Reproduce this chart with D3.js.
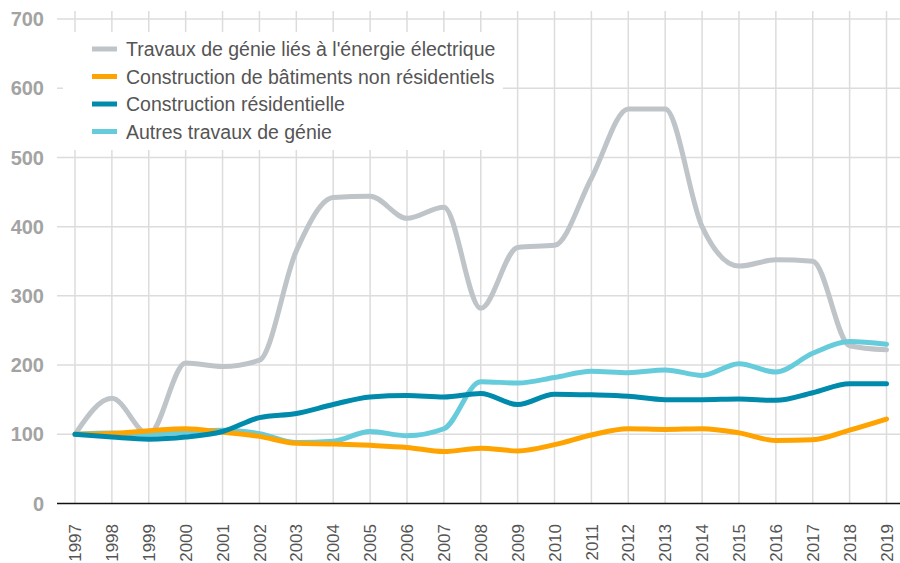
<!DOCTYPE html>
<html>
<head>
<meta charset="utf-8">
<script src="https://cdn.jsdelivr.net/npm/d3@7"></script>
<style>
  body { margin: 0; background: #fff; }
  svg { display: block; font-family: "Liberation Sans", Arial, sans-serif; }
</style>
</head>
<body>
<script>
var years = d3.range(1997, 2020);
var yTicks = [0, 100, 200, 300, 400, 500, 600, 700];

var seriesNames = [
  "Travaux de génie liés à l'énergie électrique",
  "Construction de bâtiments non résidentiels",
  "Construction résidentielle",
  "Autres travaux de génie"
];
var seriesColors = ["#bfc4c8", "#ffa300", "#008aab", "#66cbdb"];

var electrique = [100, 152, 100, 203, 198, 207, 365, 442, 444, 412, 428, 282, 370, 373, 470, 570, 570, 400, 343, 352, 350, 228, 222];
var nonResid   = [100, 101, 105, 108, 103, 97, 87, 86, 84, 81, 75, 80, 76, 85, 99, 108, 107, 108, 102, 91, 92, 106, 122];
var resid      = [100, 96, 93, 96, 104, 124, 130, 143, 154, 156, 154, 159, 143, 158, 157, 155, 150, 150, 151, 149, 160, 173, 173];
var autres     = [100, 102, 100, 103, 106, 101, 88, 90, 104, 98, 108, 176, 174, 182, 191, 189, 193, 185, 202, 190, 217, 234, 230];

var seriesValues = [electrique, nonResid, resid, autres];
var drawOrder = [0, 3, 1, 2];

var W = 900, H = 563;
var svg = d3.select("body").append("svg")
    .attr("width", W)
    .attr("height", H);

var x = d3.scaleLinear().domain([1997, 2019]).range([75, 886.5]);
var y = d3.scaleLinear().domain([0, 700]).range([503.5, 19]);

// horizontal grid
svg.append("g").selectAll("line")
  .data(yTicks.slice(1))
  .enter().append("line")
    .attr("x1", 57).attr("x2", W)
    .attr("y1", function (d) { return y(d); })
    .attr("y2", function (d) { return y(d); })
    .attr("stroke", "#dcdcdc").attr("stroke-width", 1.5);

// vertical grid
svg.append("g").selectAll("line")
  .data(years)
  .enter().append("line")
    .attr("x1", function (d) { return x(d); })
    .attr("x2", function (d) { return x(d); })
    .attr("y1", 11).attr("y2", y(0))
    .attr("stroke", "#dcdcdc").attr("stroke-width", 1.5);

// baseline
svg.append("line")
    .attr("x1", 57).attr("x2", W)
    .attr("y1", y(0)).attr("y2", y(0))
    .attr("stroke", "#111").attr("stroke-width", 1.5);

// y labels
svg.append("g").selectAll("text")
  .data(yTicks)
  .enter().append("text")
    .attr("x", 44)
    .attr("y", function (d) { return y(d); })
    .attr("dy", "0.36em")
    .attr("text-anchor", "end")
    .attr("font-size", 20)
    .attr("font-weight", "bold")
    .attr("fill", "#a3a3a3")
    .text(function (d) { return d; });

// x labels
svg.append("g").selectAll("text")
  .data(years)
  .enter().append("text")
    .attr("transform", function (d) { return "translate(" + x(d) + ",524) rotate(-90)"; })
    .attr("dy", "0.36em")
    .attr("text-anchor", "end")
    .attr("font-size", 17)
    .attr("fill", "#555")
    .text(function (d) { return d; });

// legend background
svg.append("rect")
    .attr("x", 63).attr("y", 32)
    .attr("width", 440).attr("height", 118)
    .attr("fill", "#fff");

// lines
var line = d3.line()
    .x(function (d, i) { return x(years[i]); })
    .y(function (d) { return y(d); })
    .curve(d3.curveMonotoneX);

svg.append("g").selectAll("path")
  .data(drawOrder)
  .enter().append("path")
    .attr("d", function (k) { return line(seriesValues[k]); })
    .attr("fill", "none")
    .attr("stroke", function (k) { return seriesColors[k]; })
    .attr("stroke-width", 5)
    .attr("stroke-linecap", "round")
    .attr("stroke-linejoin", "round");

// legend
var leg = svg.append("g").selectAll("g")
  .data(seriesNames)
  .enter().append("g")
    .attr("transform", function (d, i) { return "translate(92," + (49 + i * 27.5) + ")"; });

leg.append("line")
    .attr("x1", 0).attr("x2", 25)
    .attr("stroke", function (d, i) { return seriesColors[i]; })
    .attr("stroke-width", 5);

leg.append("text")
    .attr("x", 34)
    .attr("dy", "0.36em")
    .attr("font-size", 19.5)
    .attr("fill", "#555")
    .text(function (d) { return d; });
</script>
</body>
</html>
